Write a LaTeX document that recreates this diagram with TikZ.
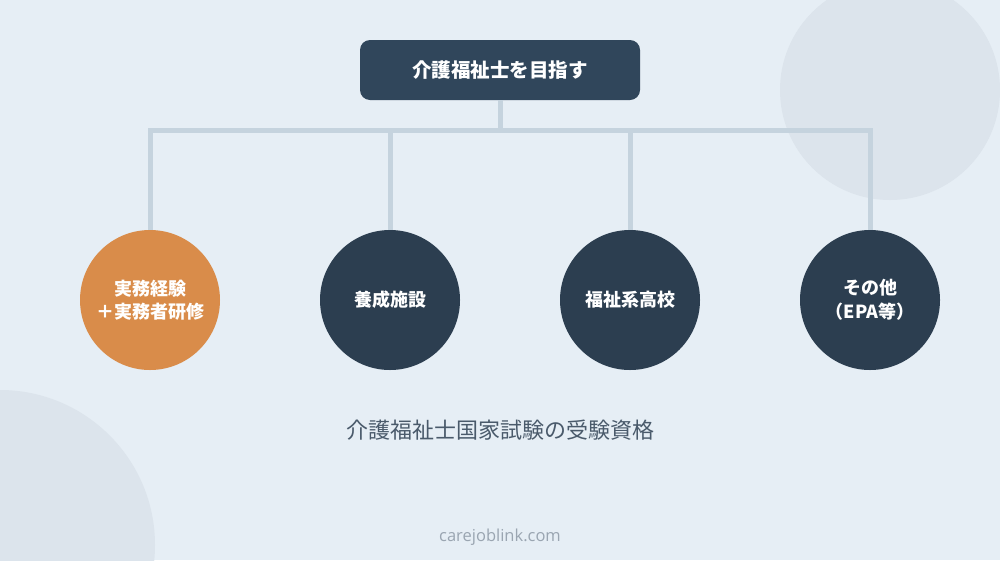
\documentclass[tikz,border=0pt]{standalone}
\usepackage{fontspec}
\setmainfont{Noto Sans CJK JP}
\newfontfamily\sitefont{Open Sans}
\usepackage{tikz}
\definecolor{bgcol}{HTML}{E6EEF5}
\definecolor{decocol}{HTML}{DCE4EC}
\definecolor{topcol}{HTML}{30465B}
\definecolor{darkcol}{HTML}{2C3E50}
\definecolor{orangecol}{HTML}{D98C4A}
\definecolor{linecol}{HTML}{C5D3DE}
\definecolor{captcol}{HTML}{4A5A6B}
\definecolor{sitecol}{HTML}{9AA5B1}
\tikzstyle{line} = [draw=linecol, line width=5pt]
\tikzstyle{goal} = [rectangle, rounded corners=10pt, fill=topcol, text=white, minimum width=280pt, minimum height=60pt, font=\fontsize{19.5}{22}\bfseries\selectfont]
\tikzstyle{route} = [circle, fill=darkcol, text=white, minimum size=140pt, inner sep=0pt, align=center, font=\fontsize{18}{23.5}\bfseries\selectfont]

\begin{document}
\begin{tikzpicture}[x=1pt, y=-1pt]
	\useasboundingbox (0,0) rectangle (1000,560);
	\fill [bgcol] (0,0) rectangle (1000,560);
	\begin{scope}
		\clip (0,0) rectangle (1000,560);
		\fill [decocol] (890,90) circle (110);
		\fill [decocol] (0,545) circle (155);
	\end{scope}
	
	\node [goal] (goal) at (500,70) {介護福祉士を目指す};
	\node [route, fill=orangecol] (exp) at (150,300) {実務経験\\＋実務者研修};
	\node [route] (school) at (390,300) {養成施設};
	\node [route] (high) at (630,300) {福祉系高校};
	\node [route] (epa) at (870,300) {その他\\（EPA等）};
	\coordinate (bus) at (500,130);
	
	\path [line] (goal.south) -- (bus);
	\path [line] (bus) -| (exp.north);
	\path [line] (bus) -| (school.north);
	\path [line] (bus) -| (high.north);
	\path [line] (bus) -| (epa.north);
	
	\node [text=captcol, font=\fontsize{22}{26}\selectfont] (qual) at (500,430) {介護福祉士国家試験の受験資格};
	\node [text=sitecol, font=\sitefont\fontsize{16.5}{20}\selectfont] (site) at (500,537) {carejoblink.com};
\end{tikzpicture}
\end{document}
